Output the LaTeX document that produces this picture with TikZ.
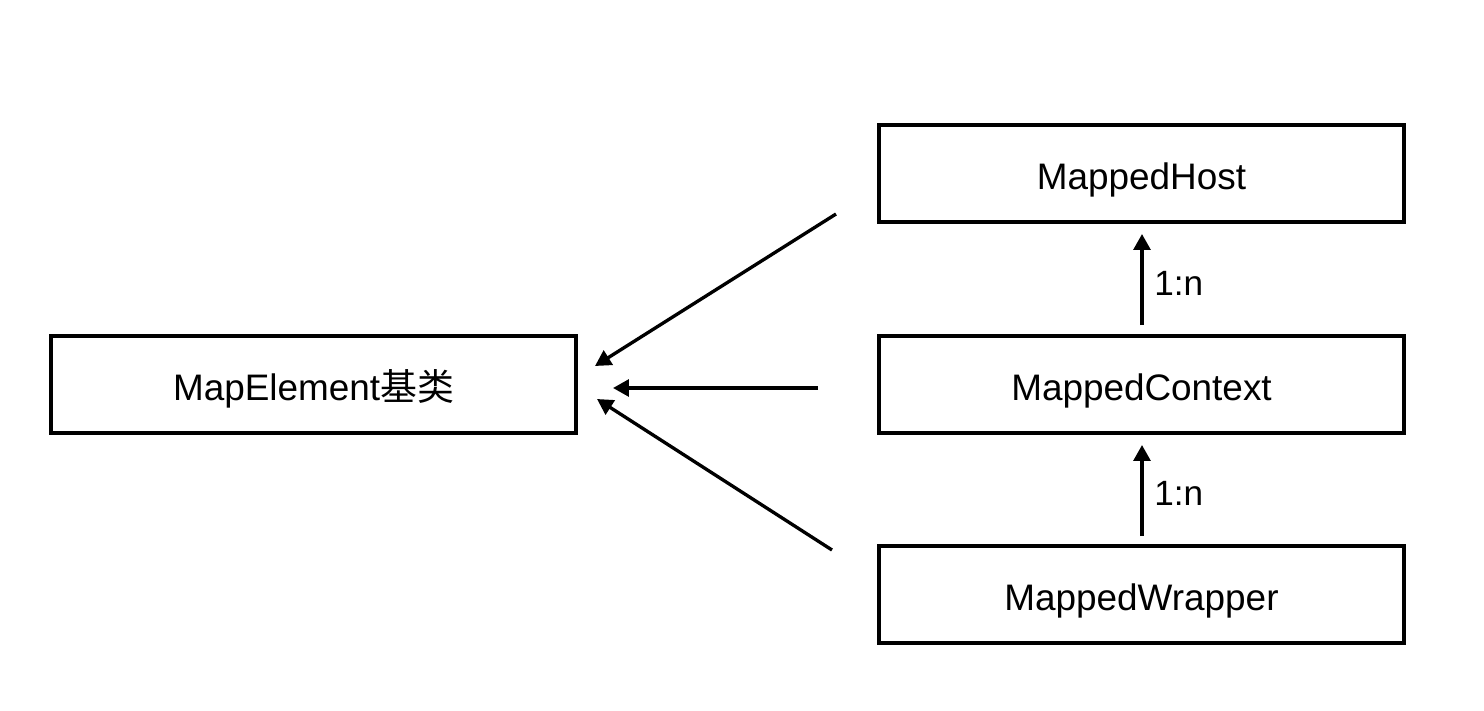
\documentclass[tikz,border=0pt]{standalone}
\usepackage{fontspec}
\setmainfont{Liberation Sans}
\newfontfamily\cjk{Noto Sans CJK SC}
\usetikzlibrary{arrows.meta}
\tikzset{
    class box/.style={
        draw=black, line width=1.9pt, fill=white,
        minimum width=10.5cm, minimum height=1.94cm,
        inner sep=0pt, text height=18pt, text depth=0pt,
        font=\fontsize{21}{25}\selectfont
    },
    link arrow/.style={
        line width=1.9pt, -{Triangle[length=9pt, width=9.5pt]}
    },
    ratio label/.style={
        font=\fontsize{20}{24}\selectfont, anchor=west, inner sep=0pt
    },
}

\begin{document}
\begin{tikzpicture}[x=0.02cm, y=-0.02cm]

    \useasboundingbox (0, 0) rectangle (1484, 710);

    \node[class box] (Element) at (313.5, 384.5) {MapElement{\cjk 基类}};
    \node[class box] (Host) at (1141.5, 173.5) {MappedHost};
    \node[class box] (Context) at (1141.5, 384.5) {MappedContext};
    \node[class box] (Wrapper) at (1141.5, 594.5) {MappedWrapper};

    \coordinate (HostTail) at (836, 214);
    \coordinate (HostTip) at (595, 366);
    \coordinate (ContextTail) at (818, 388);
    \coordinate (ContextTip) at (613, 388);
    \coordinate (WrapperTail) at (832, 550);
    \coordinate (WrapperTip) at (597, 399);

    \draw[link arrow] (HostTail) -- (HostTip);
    \draw[link arrow] (ContextTail) -- (ContextTip);
    \draw[link arrow] (WrapperTail) -- (WrapperTip);

    \coordinate (UpTailOne) at (1142, 325);
    \coordinate (UpTipOne) at (1142, 234);
    \coordinate (UpTailTwo) at (1142, 536);
    \coordinate (UpTipTwo) at (1142, 445);

    \draw[link arrow] (UpTailOne) -- (UpTipOne);
    \draw[link arrow] (UpTailTwo) -- (UpTipTwo);

    \node[ratio label] (RatioOne) at (1154, 283) {1:n};
    \node[ratio label] (RatioTwo) at (1154, 493) {1:n};

\end{tikzpicture}
\end{document}
